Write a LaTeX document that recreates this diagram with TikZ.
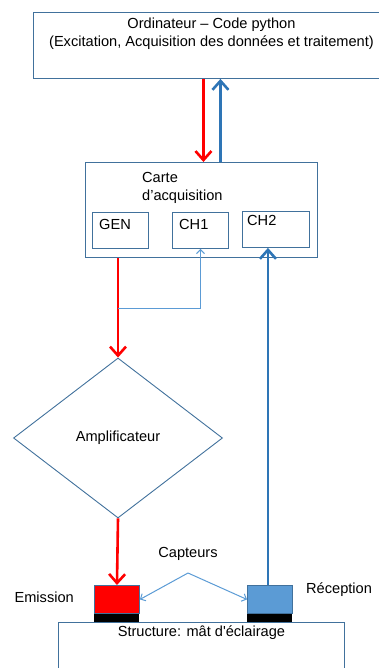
\documentclass[tikz,border=0pt]{standalone}
\usepackage{fontspec}
\setmainfont{Liberation Sans}
\usepackage{xcolor}
\usetikzlibrary{arrows.meta, positioning, shapes.geometric}

\definecolor{obox}{RGB}{65,113,156}
\definecolor{sigblue}{RGB}{46,117,182}
\definecolor{lightblue}{RGB}{91,155,213}
\definecolor{sigred}{RGB}{255,0,0}

\begin{document}
\begin{tikzpicture}[
  x=1pt, y=-1pt,
  box/.style={draw=obox, line width=0.9pt, rectangle, inner sep=0pt},
  chan/.style={box, minimum width=56pt, minimum height=36pt, anchor=north west},
  txt/.style={font=\fontsize{14.6}{18}\selectfont, align=center, inner sep=1pt},
  sensor/.style={box, minimum width=45pt, minimum height=28pt, anchor=north west},
  bar/.style={fill=black, minimum width=45pt, minimum height=8pt, inner sep=0pt},
  redsig/.style={draw=sigred, line width=2.6pt, -{Straight Barb[length=9pt, width=16pt]}},
  bluesig/.style={draw=sigblue, line width=2.6pt, -{Straight Barb[length=9pt, width=16pt]}},
  fb/.style={draw=lightblue, line width=1pt, -{Straight Barb[length=4pt, width=8pt]}},
]
\useasboundingbox (0,0) rectangle (379,668);

% ordinateur
\node[box, minimum width=356pt, minimum height=66pt, anchor=north west] (pc) at (33,12) {};
\node[txt, below=5pt of pc.north] (pctxt) {Ordinateur -- Code python\\(Excitation, Acquisition des données et traitement)};

% carte d'acquisition
\node[box, minimum width=232pt, minimum height=95pt, anchor=north west] (carte) at (85,162) {};
\node[txt, align=left, anchor=north west] (cartetxt) at (141,171) {Carte\\d'acquisition};
\node[chan, label={[txt, anchor=north west, xshift=6pt, yshift=-6pt]north west:GEN}] (gen) at (92,212) {};
\node[chan, label={[txt, anchor=north west, xshift=6pt, yshift=-6pt]north west:CH1}] (ch1) at (172,212) {};
\node[chan, minimum width=67pt, label={[txt, anchor=north west, xshift=4pt, yshift=-3pt]north west:CH2}] (ch2) at (242,211) {};

% amplificateur
\node[diamond, draw=obox, line width=0.9pt, minimum width=209pt, minimum height=160pt, aspect=1.3, inner sep=0pt, font=\fontsize{14.6}{18}\selectfont] (amp) at (118,438) {Amplificateur};

% capteurs
\node[sensor, fill=sigred] (emit) at (94,585) {};
\node[bar, below=0pt of emit] (emitbar) {};
\node[sensor, fill=lightblue] (recv) at (247,585) {};
\node[bar, below=0pt of recv] (recvbar) {};
\node[txt, anchor=east] (emittxt) at (75,597) {Emission};
\node[txt, anchor=west] (recvtxt) at (305,590) {Réception};
\node[txt] (captxt) at (188,554) {Capteurs};
\coordinate (cap) at (188,573);

% structure
\node[box, minimum width=286pt, minimum height=70pt, anchor=north west] (struct) at (58,622) {};
\node[txt, below=3pt of struct.north] (structtxt) {Structure: mât d\textquotesingle éclairage};

% liaisons
\draw[redsig] ([xshift=-8pt]pc.south) -- ([xshift=-8pt]pc.south |- carte.north);
\draw[bluesig] ([xshift=9pt]pc.south |- carte.north) -- ([xshift=9pt]pc.south);
\draw[redsig] (amp.north |- carte.south) -- (amp.north);
\coordinate (split) at (118,308);
\draw[fb] (split) -| (ch1.south);
\draw[redsig] (amp.south) -- (emit.north);
\draw[bluesig] ([xshift=-2pt]recv.north) -- ([xshift=-2pt]recv.north |- ch2.south);
\draw[fb] (cap) -- (emit.east);
\draw[fb] (cap) -- (recv.west);
\end{tikzpicture}
\end{document}
